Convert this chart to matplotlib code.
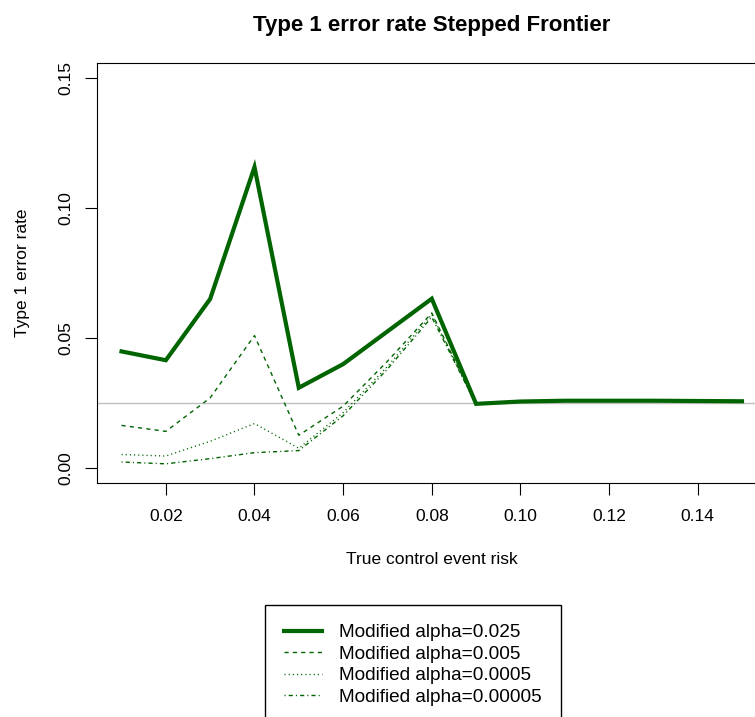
import matplotlib
matplotlib.use("Agg")
import matplotlib.pyplot as plt

plt.rcParams['font.family'] = ['Liberation Sans', 'DejaVu Sans']

# data
risk = [0.01, 0.02, 0.03, 0.04, 0.05, 0.06, 0.07, 0.08,
        0.09, 0.10, 0.11, 0.12, 0.13, 0.14, 0.15]
alpha_025 = [0.0448, 0.0414, 0.0650, 0.1158, 0.0308, 0.0399, 0.0525, 0.0651,
             0.0246, 0.0255, 0.0258, 0.0258, 0.0258, 0.0257, 0.0256]
alpha_005 = [0.0163, 0.0140, 0.0269, 0.0509, 0.0125, 0.0237, 0.0410, 0.0596,
             0.0245, 0.0255, 0.0258, 0.0258, 0.0258, 0.0257, 0.0256]
alpha_0005 = [0.0051, 0.0045, 0.0102, 0.0170, 0.0075, 0.0212, 0.0390, 0.0590,
              0.0245, 0.0255, 0.0258, 0.0258, 0.0258, 0.0257, 0.0256]
alpha_00005 = [0.0022, 0.0015, 0.0035, 0.0058, 0.0066, 0.0200, 0.0380, 0.0580,
               0.0245, 0.0255, 0.0258, 0.0258, 0.0258, 0.0257, 0.0256]
labels = ["Modified alpha=0.025", "Modified alpha=0.005",
          "Modified alpha=0.0005", "Modified alpha=0.00005"]
target = 0.025
xticks = [0.02, 0.04, 0.06, 0.08, 0.10, 0.12, 0.14]
yticks = [0.00, 0.05, 0.10, 0.15]

green = "#006400"

fig = plt.figure(figsize=(7.55, 7.17), dpi=100)
# plot region runs off the right edge, as in the reference
ax = fig.add_axes([96.7/755, 1 - 483.3/717, (766.8 - 96.7)/755, (483.3 - 62.7)/717])

ax.axhline(target, color="#bebebe", lw=1, zorder=1)
l1, = ax.plot(risk, alpha_025, color=green, lw=3, solid_joinstyle='miter')
l2, = ax.plot(risk, alpha_005, color=green, lw=1, linestyle=(0, (3, 3)))
l3, = ax.plot(risk, alpha_0005, color=green, lw=1, linestyle=(0, (0.8, 2.2)))
l4, = ax.plot(risk, alpha_00005, color=green, lw=1, linestyle=(0, (0.8, 2.2, 3, 2.2)))

ax.set_xlim(0.0044, 0.1556)
ax.set_ylim(-0.006, 0.156)
ax.set_xticks(xticks)
ax.set_xticklabels(["%.2f" % t for t in xticks])
ax.set_yticks(yticks)
ax.set_yticklabels(["%.2f" % t for t in yticks], rotation=90, va='center')
ax.tick_params(direction='out', length=8.5, width=0.8, labelsize=12.5, pad=10)
ax.tick_params(axis='y', pad=8)
for s in ax.spines.values():
    s.set_linewidth(0.8)

ax.set_title("Type 1 error rate Stepped Frontier", fontsize=16, fontweight='bold', pad=23)
ax.set_xlabel("True control event risk", fontsize=12.5, labelpad=20)
ax.set_ylabel("Type 1 error rate", fontsize=12.5, labelpad=21)

fig.legend([l1, l2, l3, l4], labels, loc='upper left',
           bbox_to_anchor=(265/755, 1 - 605/717), fontsize=13.7,
           frameon=True, fancybox=False, edgecolor='black', framealpha=1,
           borderaxespad=0, borderpad=1.0, handlelength=2.0, handletextpad=0.9,
           labelspacing=0.22)

fig.savefig("out.png", dpi=100)
